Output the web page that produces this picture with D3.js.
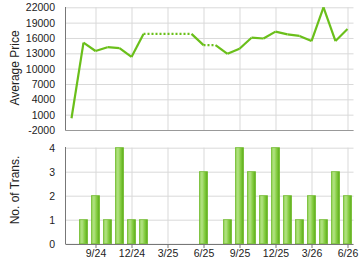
<!DOCTYPE html>
<html lang="en">
	<head>
		<meta charset="utf-8">
		<title>Average price and transactions</title>
		<script src="https://d3js.org/d3.v7.min.js"></script>
		<style type="text/css">
			body { margin: 0; background: #fff; }
			text { font-family: "Liberation Sans", Arial, sans-serif; fill: #222; }
			.grid line { stroke: #d9d9d9; }
			.grid path { display: none; }
		</style>
	</head>
	<body>
		<script type="text/javascript">
			// Data
			var months = ["7/24","8/24","9/24","10/24","11/24","12/24","1/25","2/25","3/25","4/25","5/25","6/25",
			              "7/25","8/25","9/25","10/25","11/25","12/25","1/26","2/26","3/26","4/26","5/26","6/26"];
			var prices = [300, 15100, 13450, 14200, 14000, 12300, 16800, null, null, null, null, 14600,
			              null, 12900, 13900, 16050, 15900, 17250, 16700, 16400, 15400, 22000, 15400, 17750];
			var counts = [0, 1, 2, 1, 4, 1, 1, 0, 0, 0, 0, 3, 0, 1, 4, 3, 2, 4, 2, 1, 2, 1, 3, 2];
			var tickLabels = ["9/24","12/24","3/25","6/25","9/25","12/25","3/26","6/26"];
			var priceTicks = [-2000, 1000, 4000, 7000, 10000, 13000, 16000, 19000, 22000];
			var countTicks = [0, 1, 2, 3, 4];

			var w = 360, h = 270;
			var left = 65.5, right = 353.5;
			var svg = d3.select('body').append('svg').attr('width', w).attr('height', h);

			var xScale = d3.scaleLinear().domain([-0.5, months.length - 0.5]).range([left, right]);
			var yPrice = d3.scaleLinear().domain([-2000, 22000]).range([130, 7.3]);
			var yCount = d3.scaleLinear().domain([0, 4]).range([243.7, 147.7]);

			var tickIdx = tickLabels.map(d => months.indexOf(d));

			// gradient for bars
			var grad = svg.append('defs').append('linearGradient').attr('id', 'barGrad')
				.attr('x1', '0%').attr('x2', '100%').attr('y1', '0%').attr('y2', '0%');
			grad.append('stop').attr('offset', '0%').attr('stop-color', '#8fd052');
			grad.append('stop').attr('offset', '30%').attr('stop-color', '#b3e384');
			grad.append('stop').attr('offset', '65%').attr('stop-color', '#84cc40');
			grad.append('stop').attr('offset', '100%').attr('stop-color', '#5aab18');

			// ---- top chart: grid
			svg.append('g').attr('class', 'grid')
				.attr('transform', 'translate(' + left + ',0)')
				.call(d3.axisLeft(yPrice).tickValues(priceTicks).tickSize(-(right - left)).tickFormat(''));
			svg.append('g').attr('class', 'grid')
				.attr('transform', 'translate(0,130)')
				.call(d3.axisBottom(xScale).tickValues(tickIdx).tickSize(-(130 - 7.3)).tickFormat(''));

			// y labels
			svg.append('g').selectAll('text').data(priceTicks).enter().append('text')
				.attr('x', 55).attr('y', d => yPrice(d) + 4)
				.attr('text-anchor', 'end').style('font-size', '10.5px')
				.text(d => d);

			// axes lines
			svg.append('line').attr('x1', left).attr('x2', left).attr('y1', 7).attr('y2', 130.5)
				.attr('stroke', '#777');
			svg.append('line').attr('x1', left).attr('x2', right).attr('y1', 130.5).attr('y2', 130.5)
				.attr('stroke', '#999');

			// line with dotted segments where month has no price (carry last value)
			var carried = [];
			prices.forEach((p, i) => { carried.push(p == null ? carried[i - 1] : p); });
			var line = d3.line().x(d => xScale(d[0])).y(d => yPrice(d[1]));
			for (var i = 1; i < months.length; i++) {
				svg.append('path')
					.attr('d', line([[i - 1, carried[i - 1]], [i, carried[i]]]))
					.attr('fill', 'none')
					.attr('stroke', '#6abf1a')
					.attr('stroke-width', 2.2)
					.attr('stroke-linejoin', 'round')
					.attr('stroke-dasharray', prices[i] == null ? '2,2' : null);
			}

			svg.append('text')
				.attr('transform', 'translate(19,68) rotate(-90)')
				.attr('text-anchor', 'middle').style('font-size', '12px')
				.text('Average Price');

			// ---- bottom chart
			svg.append('g').attr('class', 'grid')
				.attr('transform', 'translate(' + left + ',0)')
				.call(d3.axisLeft(yCount).tickValues(countTicks).tickSize(-(right - left)).tickFormat(''));
			svg.append('g').attr('class', 'grid')
				.attr('transform', 'translate(0,243.7)')
				.call(d3.axisBottom(xScale).tickValues(tickIdx).tickSize(-(243.7 - 147.7)).tickFormat(''));

			svg.append('g').selectAll('text').data(countTicks).enter().append('text')
				.attr('x', 55).attr('y', d => yCount(d) + 4)
				.attr('text-anchor', 'end').style('font-size', '10.5px')
				.text(d => d);

			svg.append('g').selectAll('rect')
				.data(counts.map((c, i) => [i, c]).filter(d => d[1] > 0))
				.enter()
				.append('rect')
					.attr('x', d => xScale(d[0]) - 4)
					.attr('y', d => yCount(d[1]))
					.attr('width', 8)
					.attr('height', d => yCount(0) - yCount(d[1]))
					.attr('fill', 'url(#barGrad)')
					.attr('stroke', '#70bb2c')
					.attr('stroke-width', 0.8);

			svg.append('line').attr('x1', left).attr('x2', left).attr('y1', 147).attr('y2', 244)
				.attr('stroke', '#777');
			var xAxis = svg.append('g')
				.attr('transform', 'translate(0,244)')
				.call(d3.axisBottom(xScale).tickValues(tickIdx).tickSize(4)
					.tickFormat((d, i) => tickLabels[i]));
			xAxis.select('.domain').attr('stroke', '#777').attr('d', 'M' + left + ',0.5H' + right);
			xAxis.selectAll('.tick line').attr('stroke', '#777');
			xAxis.selectAll('text').style('font-size', '10.5px').attr('y', 6).attr('fill', '#222');

			svg.append('text')
				.attr('transform', 'translate(19,190) rotate(-90)')
				.attr('text-anchor', 'middle').style('font-size', '12px')
				.text('No. of Trans.');
		</script>
	</body>
</html>
